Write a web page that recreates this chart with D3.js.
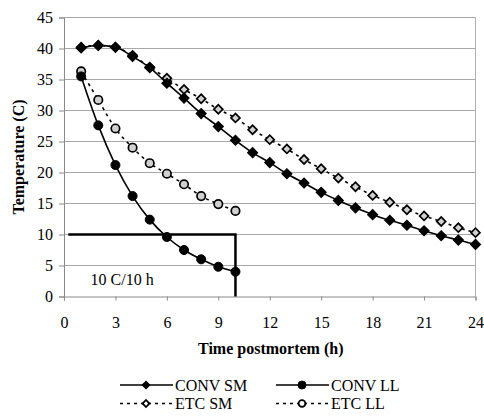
<!DOCTYPE html>
<html>
<head>
<meta charset="utf-8">
<script src="https://cdn.jsdelivr.net/npm/d3@7"></script>
<style>
  body { margin: 0; background: #fff; }
</style>
</head>
<body>
<svg id="chart" width="484" height="419"></svg>
<script>
// readings, hours postmortem
const hoursSM = [1, 2, 3, 4, 5, 6, 7, 8, 9, 10, 11, 12, 13, 14, 15, 16, 17, 18, 19, 20, 21, 22, 23, 24];
const hoursLL = [1, 2, 3, 4, 5, 6, 7, 8, 9, 10];
const convSM = [40.1, 40.5, 40.2, 38.7, 36.9, 34.4, 32.0, 29.5, 27.4, 25.2, 23.2, 21.6, 19.8, 18.3, 16.8, 15.5, 14.3, 13.2, 12.3, 11.5, 10.6, 9.8, 9.1, 8.4];
const etcSM = [40.2, 40.5, 40.2, 38.9, 37.0, 35.2, 33.4, 31.9, 30.2, 28.8, 26.9, 25.3, 23.8, 22.1, 20.6, 19.1, 17.7, 16.3, 15.2, 14.0, 13.0, 12.1, 11.1, 10.3];
const convLL = [35.5, 27.6, 21.2, 16.2, 12.4, 9.6, 7.5, 6.0, 4.8, 4.0];
const etcLL = [36.3, 31.7, 27.1, 24.0, 21.5, 19.8, 18.1, 16.2, 14.9, 13.8];
const xTicks = [0, 3, 6, 9, 12, 15, 18, 21, 24];
const yTicks = [0, 5, 10, 15, 20, 25, 30, 35, 40, 45];
// 10 C / 10 h target box
const targetTemp = 10, targetHour = 10, boxStart = 0.25;

const serif = '"Liberation Serif"';
const svg = d3.select("#chart");
const x = d3.scaleLinear().domain([0, 24]).range([64, 475.5]);
const y = d3.scaleLinear().domain([0, 45]).range([296.5, 17.5]);
const axisGrey = "#8a8a8a";

// gridlines
svg.append("g")
    .selectAll("line")
    .data(yTicks.slice(1))
    .enter()
    .append("line")
    .attr("x1", x(0)).attr("x2", x(24))
    .attr("y1", d => y(d)).attr("y2", d => y(d))
    .attr("stroke", "#a8a8a8").attr("stroke-width", 1);

// right border of plot area
svg.append("line")
    .attr("x1", x(24)).attr("x2", x(24))
    .attr("y1", y(45)).attr("y2", y(0))
    .attr("stroke", "#b0b0b0");

const xAxis = svg.append("g")
    .attr("transform", `translate(0,${y(0)})`)
    .call(d3.axisBottom(x).tickValues(xTicks).tickSize(4).tickPadding(16));
const yAxis = svg.append("g")
    .attr("transform", `translate(${x(0)},0)`)
    .call(d3.axisLeft(y).tickValues(yTicks).tickSize(5).tickPadding(6));
[xAxis, yAxis].forEach(g => {
    g.attr("font-family", null).attr("font-size", null);
    g.select(".domain").attr("stroke", axisGrey);
    g.selectAll(".tick line").attr("stroke", axisGrey);
    g.selectAll(".tick text").style("font-family", serif).style("font-size", "16px");
});

// target box
svg.append("path")
    .attr("d", d3.line()([[x(boxStart), y(targetTemp)], [x(targetHour), y(targetTemp)], [x(targetHour), y(0)]]))
    .attr("fill", "none")
    .attr("stroke", "#000")
    .attr("stroke-width", 2.5);
svg.append("text")
    .attr("x", x(1.55))
    .attr("y", 285)
    .style("font-family", serif)
    .style("font-size", "16px")
    .text("10 C/10 h");

const diamond = size => d3.symbol().type(d3.symbolSquare).size(size)();
const circle = size => d3.symbol().type(d3.symbolCircle).size(size)();

const series = [
    {name: "ETC SM", hours: hoursSM, values: etcSM, dash: "3,4", marker: diamond(40), fill: "#d0d0d0", rot: 45},
    {name: "ETC LL", hours: hoursLL, values: etcLL, dash: "3,4", marker: circle(56), fill: "#d0d0d0", rot: 0},
    {name: "CONV SM", hours: hoursSM, values: convSM, dash: null, marker: diamond(52), fill: "#000", rot: 45},
    {name: "CONV LL", hours: hoursLL, values: convLL, dash: null, marker: circle(64), fill: "#000", rot: 0}
];

const line = d3.line()
    .x(d => x(d[0]))
    .y(d => y(d[1]))
    .curve(d3.curveMonotoneX);

series.forEach(s => {
    const pts = s.hours.map((h, i) => [h, s.values[i]]);
    svg.append("path")
        .datum(pts)
        .attr("d", line)
        .attr("fill", "none")
        .attr("stroke", "#000")
        .attr("stroke-width", 1.6)
        .attr("stroke-dasharray", s.dash);
    svg.append("g")
        .selectAll("path")
        .data(pts)
        .enter()
        .append("path")
        .attr("d", s.marker)
        .attr("transform", d => `translate(${x(d[0])},${y(d[1])}) rotate(${s.rot})`)
        .attr("fill", s.fill)
        .attr("stroke", "#000")
        .attr("stroke-width", s.dash ? 1.7 : 1);
});

// axis titles
svg.append("text")
    .attr("x", (x(0) + x(24)) / 2 + 1)
    .attr("y", 354)
    .attr("text-anchor", "middle")
    .style("font-family", serif)
    .style("font-size", "16px")
    .style("font-weight", "bold")
    .text("Time postmortem (h)");
svg.append("text")
    .attr("transform", `translate(24,${(y(0) + y(45)) / 2}) rotate(-90)`)
    .attr("text-anchor", "middle")
    .style("font-family", serif)
    .style("font-size", "16px")
    .style("font-weight", "bold")
    .text("Temperature (C)");

// legend, two rows of two
const legendItems = [
    {s: series[2], col: 0, row: 0},
    {s: series[3], col: 1, row: 0},
    {s: series[0], col: 0, row: 1},
    {s: series[1], col: 1, row: 1}
];
const legend = svg.selectAll(".legend")
    .data(legendItems)
    .enter()
    .append("g")
    .attr("class", "legend")
    .attr("transform", d => `translate(${120 + d.col * 156},${385 + d.row * 18.5})`);
legend.append("line")
    .attr("x1", 0).attr("x2", 53)
    .attr("stroke", "#000")
    .attr("stroke-width", 1.6)
    .attr("stroke-dasharray", d => d.s.dash);
legend.append("path")
    .attr("d", d => d.s.dash ? (d.s.rot ? diamond(24) : circle(36)) : (d.s.rot ? diamond(30) : circle(50)))
    .attr("transform", d => `translate(26,0) rotate(${d.s.rot})`)
    .attr("fill", d => d.s.dash ? "#fff" : "#000")
    .attr("stroke", "#000")
    .attr("stroke-width", d => d.s.dash ? 1.8 : 1);
legend.append("text")
    .attr("x", 55)
    .attr("y", 5.5)
    .style("font-family", serif)
    .style("font-size", "16px")
    .text(d => d.s.name);
</script>
</body>
</html>
